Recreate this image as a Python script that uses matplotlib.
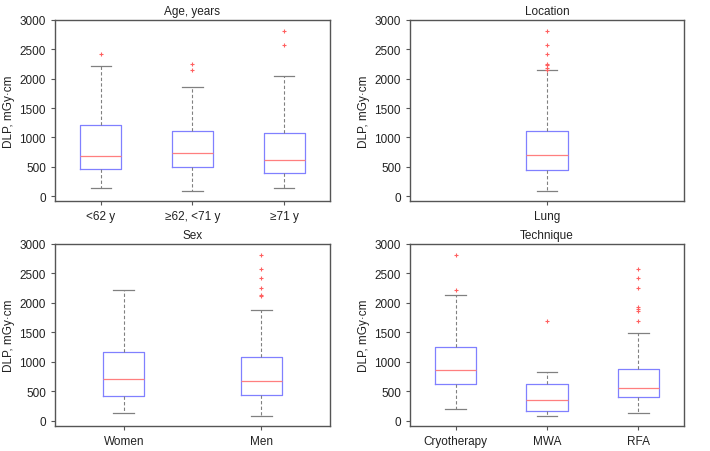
import matplotlib
matplotlib.use("Agg")
import matplotlib.pyplot as plt

plt.rcParams['font.family'] = ['Liberation Sans', 'DejaVu Sans']

# box statistics: (low whisker, Q1, median, Q3, high whisker)
age_labels = ["<62 y", "≥62, <71 y", "≥71 y"]
age_stats = [(142, 453, 685, 1217, 2215), (85, 492, 736, 1115, 1862), (136, 396, 611, 1081, 2045)]
age_fliers = [[2425], [2255, 2140], [2820, 2575]]

loc_labels = ["Lung"]
loc_stats = [(85, 441, 696, 1115, 2140)]
loc_fliers = [[2820, 2570, 2420, 2255, 2230, 2190, 2140]]

sex_labels = ["Women", "Men"]
sex_stats = [(142, 419, 719, 1177, 2213), (79, 447, 674, 1087, 1879)]
sex_fliers = [[], [2820, 2570, 2417, 2255, 2140, 2117]]

tech_labels = ["Cryotherapy", "MWA", "RFA"]
tech_stats = [(209, 628, 872, 1251, 2140), (79, 164, 362, 628, 838), (136, 413, 566, 889, 1494)]
tech_fliers = [[2819, 2213], [1687], [2575, 2417, 2253, 1936, 1896, 1857, 1687]]

panels = [
    ("Age, years", age_labels, age_stats, age_fliers, 0.45),
    ("Location", loc_labels, loc_stats, loc_fliers, 0.15),
    ("Sex", sex_labels, sex_stats, sex_fliers, 0.30),
    ("Technique", tech_labels, tech_stats, tech_fliers, 0.45),
]

# axes rectangles in pixels (left, top, right, bottom)
rects = [(55, 21, 330, 202), (410, 21, 684, 202), (55, 245, 330, 427), (410, 245, 684, 427)]

W, H = 710, 452
fig = plt.figure(figsize=(W / 100, H / 100), dpi=100)

for (title, labels, stats, fliers, bw), (l, t, r, b) in zip(panels, rects):
    ax = fig.add_axes([l / W, 1 - b / H, (r - l) / W, (b - t) / H])
    bxp = []
    for lab, s, f in zip(labels, stats, fliers):
        bxp.append(dict(label=lab, whislo=s[0], q1=s[1], med=s[2], q3=s[3], whishi=s[4], fliers=f))
    pos = list(range(1, len(labels) + 1))
    ax.bxp(bxp, positions=pos, widths=bw, showfliers=True, capwidths=bw * 0.5,
           boxprops=dict(color="#8080ff", linewidth=0.9),
           medianprops=dict(color="#ff7f7f", linewidth=0.9),
           whiskerprops=dict(color="#808080", linestyle=(0, (3, 2)), linewidth=0.8),
           capprops=dict(color="#808080", linewidth=0.9),
           flierprops=dict(marker="+", markeredgecolor="#ff6060", markersize=3, markeredgewidth=0.8, linestyle="none"))
    ax.set_xlim(0.5, len(labels) + 0.5)
    ax.set_ylim(-85, 3000)
    ax.set_yticks([0, 500, 1000, 1500, 2000, 2500, 3000])
    ax.set_xticks(pos)
    ax.set_xticklabels(labels)
    ax.tick_params(labelsize=8.5, colors="#222222", length=3, width=0.8)
    ax.tick_params(axis="both", color="#555555")
    for sp in ax.spines.values():
        sp.set_color("#555555")
        sp.set_linewidth(1)
    ax.set_title(title, fontsize=8.5, pad=4, color="#222222")
    ax.set_ylabel("DLP, mGy·cm", fontsize=8.5, color="#222222", labelpad=3)

fig.savefig("out.png", dpi=100)
